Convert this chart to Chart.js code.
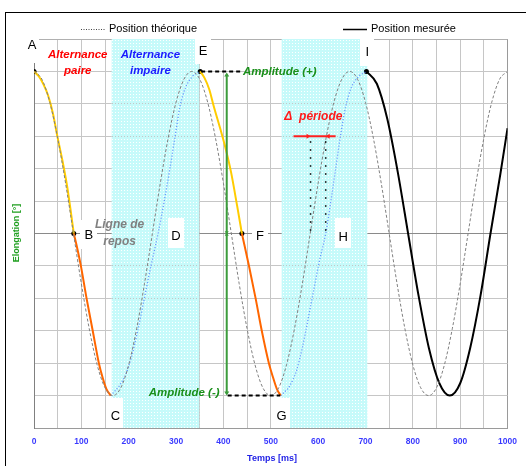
<!DOCTYPE html>
<html><head><meta charset="utf-8">
<script src="https://cdn.jsdelivr.net/npm/chart.js@4.4.0/dist/chart.umd.min.js"></script>
<style>html,body{margin:0;padding:0;background:#fff;overflow:hidden;}</style>
</head><body>
<canvas id="c" width="526" height="466"></canvas>
<script>
const FONT = '"Liberation Sans", Arial, sans-serif';

// ---- tick labels ----
const xTickLabels = ['0','100','200','300','400','500','600','700','800','900','1000'];

// ---- theoretical position (thin dotted) ----
const theoT = [0,16.7,33.3,50,66.7,83.3,100,116.7,133.3,150,166.7,183.3,200,216.7,233.3,250,266.7,283.3,300,316.7,
  333.3,350,366.7,383.3,400,416.7,433.3,450,466.7,483.3,500,516.7,533.3,550,566.7,583.3,600,616.7,633.3,650,
  666.7,683.3,700,716.7,733.3,750,766.7,783.3,800,816.7,833.3,850,866.7,883.3,900,916.7,933.3,950,966.7,983.3,1000];
const theoV = [5,4.76,4.05,2.94,1.55,0,-1.55,-2.94,-4.05,-4.76,-5,-4.76,-4.05,-2.94,-1.55,0,1.55,2.94,4.05,4.76,
  5,4.76,4.05,2.94,1.55,0,-1.55,-2.94,-4.05,-4.76,-5,-4.76,-4.05,-2.94,-1.55,0,1.55,2.94,4.05,4.76,
  5,4.76,4.05,2.94,1.55,0,-1.55,-2.94,-4.05,-4.76,-5,-4.76,-4.05,-2.94,-1.55,0,1.55,2.94,4.05,4.76,5];

// ---- measured position, by segment ----
const seg1T = [0,10,20,30,40,50,60,70,77,84];                 // A -> B (alternance paire, yellow)
const seg1V = [5,4.85,4.6,4.25,3.7,2.95,2.25,1.45,0.75,0];
const seg2T = [84,92,99,111,124,137,145,153,162];              // B -> C (orange)
const seg2V = [0,-0.5,-1,-2,-3,-4,-4.45,-4.8,-5];
const seg3T = [162,180,195,206,219,233,247,262,275,287,298,308,320,335,351]; // C -> E (impaire, dotted)
const seg3V = [-5,-4.7,-4.3,-3.8,-3,-2,-1,0,1,2,3,3.9,4.5,4.85,5];
const seg4T = [351,360,370,380,392,405,416,429,439];           // E -> F (yellow)
const seg4V = [5,4.8,4.45,3.9,3.3,2.6,1.9,0.85,0];
const seg5T = [439,454,468,481,496,505,513,521];               // F -> G (orange)
const seg5V = [0,-1,-2,-3,-4,-4.45,-4.8,-5];
const seg6T = [521,540,555,567,578,590,602,616,627,637,647,658,670,686,702]; // G -> I (dotted)
const seg6V = [-5,-4.7,-4.2,-3.5,-2.7,-1.8,-0.9,0,1,2,3,3.9,4.5,4.85,5];
const seg7T = [702,724,746,768,790,812,834,856,878,900,921,943,964,985,1000]; // I -> end (black)
const seg7V = [5,4.62,3.54,1.91,0,-1.91,-3.54,-4.62,-5,-4.62,-3.54,-1.91,0,1.85,3.25];

// key points A, B, E, F, I
const keyT = [0,84,351,439,702];
const keyV = [5,0,5,0,5];

// shaded "alternance impaire" spans (ms)
const spanStart = [164,523];
const spanEnd = [349,704];

function pts(T,V){return T.map((t,i)=>({x:t,y:V[i]}));}

// letters: anchor in data coords, box in px
const letters = [
  {s:'A',t:-4.2,v:5.8,bw:14,bh:26,bdy:5},
  {s:'E',t:357,v:5.62,bw:16,bh:26,bdy:0},
  {s:'I',t:704,v:5.59,bw:14,bh:27,bdy:0},
  {s:'B',t:116,v:-0.06,bw:17,bh:29,bdy:-1},
  {s:'D',t:300,v:-0.09,bw:16,bh:30,bdy:-3},
  {s:'F',t:477,v:-0.09,bw:16,bh:29,bdy:-2},
  {s:'H',t:653,v:-0.12,bw:16,bh:30,bdy:-4},
  {s:'C',t:172,v:-5.65,bw:16,bh:30,bdy:-4},
  {s:'G',t:523,v:-5.65,bw:16,bh:30,bdy:-4}
];
const notes = [
  {lines:['Alternance','paire'],t:92.4,v:5.25,color:'#ff0000',size:11.5,lh:16},
  {lines:['Alternance','impaire'],t:245.8,v:5.25,color:'#1a1aff',size:11.5,lh:16},
  {lines:['Ligne de','repos'],t:180.7,v:0.015,color:'#808080',size:12,lh:17},
  {lines:['Amplitude (+)'],t:519,v:5.0,color:'#1a8f1a',size:11.5,lh:14},
  {lines:['Amplitude (-)'],t:317,v:-4.91,color:'#1a8f1a',size:11.5,lh:14},
  {lines:['\u0394  période'],t:590,v:3.61,color:'#ff1a1a',size:12,lh:14}
];

let cyanPattern = null;
function getPattern(ctx){
  if (cyanPattern) return cyanPattern;
  const pc = document.createElement('canvas'); pc.width = 3; pc.height = 3;
  const g = pc.getContext('2d');
  g.fillStyle = '#c6fafa'; g.fillRect(0,0,3,3);
  g.clearRect(1,1,1,1);
  cyanPattern = ctx.createPattern(pc,'repeat');
  return cyanPattern;
}
function tri(ctx,x,y,ang,s){
  ctx.save(); ctx.translate(x,y); ctx.rotate(ang);
  ctx.beginPath(); ctx.moveTo(0,0); ctx.lineTo(-s*1.6,-s); ctx.lineTo(-s*1.6,s); ctx.closePath(); ctx.fill();
  ctx.restore();
}

const deco = {
  id:'deco',
  beforeDatasetsDraw(chart){
    const ctx = chart.ctx, a = chart.chartArea, X = chart.scales.x;
    ctx.save();
    ctx.fillStyle = getPattern(ctx);
    for (let i=0;i<spanStart.length;i++){
      const x0 = X.getPixelForValue(spanStart[i]), x1 = X.getPixelForValue(spanEnd[i]);
      ctx.fillRect(x0, a.top, x1-x0, a.bottom-a.top);
    }
    ctx.restore();
  },
  afterDatasetsDraw(chart){
    const ctx = chart.ctx, X = chart.scales.x, Y = chart.scales.y;
    const px = t=>X.getPixelForValue(t), py = v=>Y.getPixelForValue(v);
    ctx.save();
    ctx.textAlign='center'; ctx.textBaseline='middle';
    ctx.font = '13px '+FONT;
    letters.forEach(L=>{
      const x = px(L.t), y = py(L.v);
      ctx.fillStyle='#fff';
      ctx.fillRect(Math.round(x-L.bw/2), Math.round(y+L.bdy-L.bh/2), L.bw, L.bh);
      ctx.fillStyle='#000';
      ctx.fillText(L.s, x, y);
    });
    ctx.strokeStyle='#000'; ctx.lineWidth=2; ctx.setLineDash([4,3]);
    ctx.beginPath(); ctx.moveTo(px(353),py(5)); ctx.lineTo(px(438),py(5)); ctx.stroke();
    ctx.beginPath(); ctx.moveTo(px(409),py(-5)); ctx.lineTo(px(520),py(-5)); ctx.stroke();
    ctx.setLineDash([]);
    const gx = px(407);
    ctx.strokeStyle='#3c9c3c'; ctx.fillStyle='#3c9c3c'; ctx.lineWidth=2;
    ctx.beginPath(); ctx.moveTo(gx,py(5)+3); ctx.lineTo(gx,py(-5)-2); ctx.stroke();
    tri(ctx,gx,py(5)+1,-Math.PI/2,2.5);
    tri(ctx,gx,py(-5),Math.PI/2,2.5);
    tri(ctx,gx,py(0)-1,-Math.PI/2,2);
    tri(ctx,gx,py(0)+1,Math.PI/2,2);
    ctx.strokeStyle='#000'; ctx.lineWidth=1.5; ctx.setLineDash([1.5,6.5]);
    [584,616].forEach(t=>{ctx.beginPath(); ctx.moveTo(px(t),py(3)+5); ctx.lineTo(px(t),py(0)+3); ctx.stroke();});
    ctx.setLineDash([]);
    ctx.strokeStyle='#ff2020'; ctx.fillStyle='#ff2020'; ctx.lineWidth=2;
    ctx.beginPath(); ctx.moveTo(px(548),py(3)); ctx.lineTo(px(637),py(3)); ctx.stroke();
    tri(ctx,px(584),py(3),0,2.5);
    tri(ctx,px(616),py(3),Math.PI,2.5);
    notes.forEach(N=>{
      ctx.fillStyle=N.color;
      ctx.font='italic bold '+N.size+'px '+FONT;
      const x=px(N.t), y=py(N.v);
      const n=N.lines.length;
      N.lines.forEach((s,i)=>ctx.fillText(s, x, y+(i-(n-1)/2)*N.lh));
    });
    ctx.restore();
  },
  afterDraw(chart){
    const ctx = chart.ctx;
    ctx.save();
    ctx.strokeStyle='#000'; ctx.lineWidth=1;
    ctx.strokeRect(5.5,12.5,700,700);
    ctx.fillStyle='#fff'; ctx.fillRect(78,20,124,17); ctx.fillRect(340,20,122,17);
    ctx.strokeStyle='#444'; ctx.lineWidth=1; ctx.setLineDash([1,1.5]);
    ctx.beginPath(); ctx.moveTo(81,29.5); ctx.lineTo(105,29.5); ctx.stroke();
    ctx.setLineDash([]);
    ctx.strokeStyle='#000'; ctx.lineWidth=1.5;
    ctx.beginPath(); ctx.moveTo(343,29.5); ctx.lineTo(367,29.5); ctx.stroke();
    ctx.fillStyle='#000'; ctx.font='11px '+FONT; ctx.textAlign='left'; ctx.textBaseline='middle';
    ctx.fillText('Position théorique',109,29);
    ctx.fillText('Position mesurée',371,29);
    ctx.textAlign='center';
    ctx.font='bold 9px '+FONT; ctx.fillStyle='#2323e6';
    ctx.fillText('Temps [ms]',272,459);
    ctx.save(); ctx.translate(17,233); ctx.rotate(-Math.PI/2);
    ctx.fillStyle='#23a023'; ctx.fillText('Elongation [°]',0,0);
    ctx.restore();
    ctx.restore();
  }
};

const segStyle = (T,V,color,w,dash)=>({data:pts(T,V),borderColor:color,borderWidth:w,borderDash:dash||[],
  pointRadius:0,fill:false,cubicInterpolationMode:'monotone'});

new Chart(document.getElementById('c'),{
  type:'line',
  data:{datasets:[
    segStyle(theoT,theoV,'#808080',1,[3,2]),
    segStyle(seg1T,seg1V,'#ffcc00',2),
    segStyle(seg2T,seg2V,'#ff6600',2),
    segStyle(seg3T,seg3V,'#5c8cff',1.3,[1,2]),
    segStyle(seg4T,seg4V,'#ffcc00',2),
    segStyle(seg5T,seg5V,'#ff6600',2),
    segStyle(seg6T,seg6V,'#5c8cff',1.3,[1,2]),
    segStyle(seg7T,seg7V,'#000000',2),
    {data:pts(keyT,keyV),showLine:false,pointRadius:2.5,pointBackgroundColor:'#000',pointBorderColor:'#000',pointBorderWidth:0}
  ]},
  options:{
    responsive:false, animation:false, devicePixelRatio:1, events:[],
    layout:{padding:{left:0,right:16,top:39,bottom:0}},
    plugins:{legend:{display:false},tooltip:{enabled:false}},
    scales:{
      x:{type:'linear',min:0,max:1000,
        afterFit(s){s.height=38;},
        ticks:{stepSize:50,autoSkip:false,maxRotation:0,padding:9,color:'#3a3aff',font:{family:FONT,size:8.5,weight:'bold'},
          callback:(v)=>{const i=xTickLabels.indexOf(String(v)); return (v%100===0 && i>=0)?xTickLabels[i]:'';}},
        grid:{drawTicks:false,color:(c)=>c.tick&&c.tick.value===1000?'#9a9a9a':'#c6c6c6',lineWidth:1},
        border:{display:true,color:'#9a9a9a',width:1}},
      y:{type:'linear',min:-6,max:6,
        afterFit(s){s.width=34;},
        ticks:{stepSize:1,display:false},
        grid:{drawTicks:false,color:(c)=>{const v=c.tick&&c.tick.value; return v===0?'#8a8a8a':(v===6?'#b0b0b0':'#c6c6c6');},lineWidth:1},
        border:{display:true,color:'#808080',width:1}}
    }
  },
  plugins:[deco]
});
</script>
</body></html>
